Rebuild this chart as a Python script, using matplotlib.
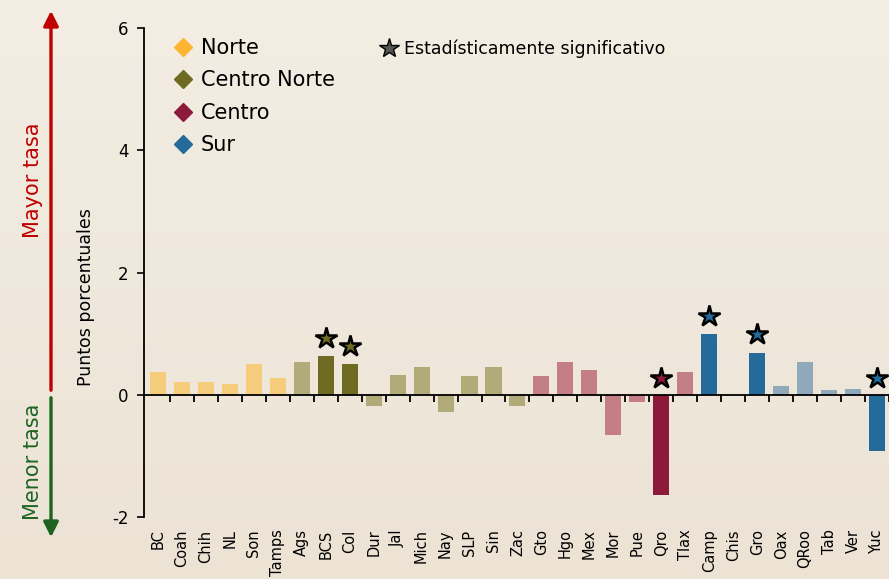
import matplotlib
matplotlib.use("Agg")
import numpy as np
import matplotlib.pyplot as plt
from matplotlib.lines import Line2D

plt.rcParams['axes.unicode_minus'] = False

# Data
estados = ['BC', 'Coah', 'Chih', 'NL', 'Son', 'Tamps',
           'Ags', 'BCS', 'Col', 'Dur', 'Jal', 'Mich', 'Nay', 'SLP', 'Sin', 'Zac',
           'Gto', 'Hgo', 'Mex', 'Mor', 'Pue', 'Qro', 'Tlax',
           'Camp', 'Chis', 'Gro', 'Oax', 'QRoo', 'Tab', 'Ver', 'Yuc']
valores = [0.37, 0.21, 0.21, 0.17, 0.50, 0.28,
           0.53, 0.63, 0.50, -0.19, 0.33, 0.46, -0.29, 0.30, 0.46, -0.19,
           0.30, 0.53, 0.40, -0.66, -0.12, -1.64, 0.37,
           0.99, 0.0, 0.69, 0.14, 0.53, 0.07, 0.10, -0.92]
region = ['Norte'] * 6 + ['Centro Norte'] * 10 + ['Centro'] * 7 + ['Sur'] * 8
significativo = ['BCS', 'Col', 'Qro', 'Camp', 'Gro', 'Yuc']

regiones = ['Norte', 'Centro Norte', 'Centro', 'Sur']
color_claro = {'Norte': '#F5CB7C', 'Centro Norte': '#B1AB79',
               'Centro': '#C47F86', 'Sur': '#8FA9BB'}
color_oscuro = {'Norte': '#FDB431', 'Centro Norte': '#6E6A22',
                'Centro': '#8C1B3B', 'Sur': '#246B9B'}

fondo = '#EFE7DB'

fig = plt.figure(figsize=(8.89, 5.79), dpi=100, facecolor=fondo)

# soft vertical gradient in the background
bg = fig.add_axes([0, 0, 1, 1], zorder=-10)
grad = np.linspace(0, 1, 256).reshape(-1, 1)
top = np.array([243, 237, 227]) / 255
bottom = np.array([236, 227, 213]) / 255
img = top + (bottom - top) * grad[:, :, None]
bg.imshow(img, aspect='auto', extent=[0, 1, 0, 1])
bg.axis('off')

ax = fig.add_axes([144 / 889, 1 - 517 / 579, 745 / 889, 489 / 579])
ax.patch.set_alpha(0)

x = list(range(len(estados)))
colores = []
for e, r in zip(estados, region):
    colores.append(color_oscuro[r] if e in significativo else color_claro[r])
ax.bar(x, valores, width=0.67, color=colores, zorder=2)

# stars over the significant bars
for i, (e, v, r) in enumerate(zip(estados, valores, region)):
    if e in significativo:
        ys = v + 0.3 if v > 0 else 0.27
        ax.plot(i, ys, marker='*', markersize=16, markerfacecolor=color_oscuro[r],
                markeredgecolor='black', markeredgewidth=1.8, zorder=4, clip_on=False)

ax.set_xlim(-0.58, 30.42)
ax.set_ylim(-2, 6)
ax.set_yticks([-2, 0, 2, 4, 6])
ax.tick_params(axis='y', direction='out', length=5, width=1.2, labelsize=12, pad=6)

# zero line as the x axis, ticks between categories, labels at the bottom
ax.spines['bottom'].set_position(('data', 0))
ax.spines['bottom'].set_linewidth(1.3)
ax.spines['left'].set_linewidth(1.3)
ax.spines['top'].set_visible(False)
ax.spines['right'].set_visible(False)
ax.set_xticks(x)
ax.set_xticklabels(estados, rotation=90, fontsize=10.5, va='top')
ax.set_xticks([i + 0.5 for i in x], minor=True)
ax.tick_params(axis='x', which='major', length=0, pad=97)
ax.tick_params(axis='x', which='minor', direction='out', length=5, width=1.3)

ax.set_ylabel('Puntos porcentuales', fontsize=12.5)
ax.yaxis.set_label_coords(-0.066, 0.45)

# legend
handles = [Line2D([], [], marker='D', linestyle='', markersize=9,
                  color=color_oscuro[r], label=r) for r in regiones]
leg = ax.legend(handles=handles, loc='upper left', bbox_to_anchor=(0.026, 0.997),
                frameon=False, fontsize=15, handletextpad=0.3, labelspacing=0.6,
                handlelength=1.1, borderaxespad=0)
ax.add_artist(leg)
star_h = [Line2D([], [], marker='*', linestyle='', markersize=15,
                 markerfacecolor='#555555', markeredgecolor='black',
                 label='Estadísticamente significativo')]
ax.legend(handles=star_h, loc='upper left', bbox_to_anchor=(0.308, 0.99),
          frameon=False, fontsize=12.5, handletextpad=0.35, handlelength=1.0,
          borderaxespad=0)

# left side arrows
ax.annotate('', xy=(51, 571), xycoords='figure pixels', xytext=(51, 186),
            textcoords='figure pixels',
            arrowprops=dict(arrowstyle='-|>,head_length=0.9,head_width=0.45',
                            color='#C00000', lw=2.4))
ax.annotate('', xy=(51, 39), xycoords='figure pixels', xytext=(51, 184),
            textcoords='figure pixels',
            arrowprops=dict(arrowstyle='-|>,head_length=0.9,head_width=0.45',
                            color='#1E6420', lw=2.4))
fig.text(33 / 889, 399 / 579, 'Mayor tasa', rotation=90, color='#C00000',
         fontsize=15, ha='center', va='center')
fig.text(33 / 889, 117 / 579, 'Menor tasa', rotation=90, color='#1E6420',
         fontsize=15, ha='center', va='center')

plt.savefig('out.png', dpi=100, facecolor=fondo)
